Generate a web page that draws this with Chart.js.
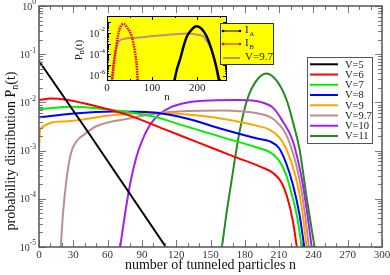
<!DOCTYPE html>
<html>
<head>
<meta charset="utf-8">
<script src="https://cdn.jsdelivr.net/npm/chart.js@4"></script>
<style>
  html, body { margin: 0; padding: 0; background: #fff; }
  #wrap { position: relative; width: 390px; height: 275px; }
  #main { position: absolute; left: 0; top: 0; }
  #inset { position: absolute; left: 70px; top: 0; }
</style>
</head>
<body>
<div id="wrap">
  <canvas id="main" width="390" height="275"></canvas>
  <canvas id="inset" width="210" height="102"></canvas>
</div>
<script>
// ---- main panel data ----
const xTickLabels = [0, 30, 60, 90, 120, 150, 180, 210, 240, 270, 300];
const yTickExps = [0, -1, -2, -3, -4, -5];

const nV5 = [0, 43, 111];
const pV5 = [0.072, 2.4e-3, 1e-5];

const nV6 = [0, 10, 25, 50, 80, 110, 140, 170, 195, 205, 212, 217, 222, 225.5];
const pV6 = [0.0112, 0.012, 0.0112, 8.3e-3, 5.25e-3, 2.75e-3, 1.45e-3, 7.6e-4, 4.5e-4, 3.4e-4, 2.2e-4, 1.1e-4, 3.5e-5, 1e-5];

const nV7 = [0, 30, 65, 100, 130, 160, 190, 202, 210, 216, 221, 226, 229.7];
const pV7 = [7.2e-3, 8.1e-3, 6.9e-3, 5.1e-3, 3.1e-3, 1.9e-3, 1.17e-3, 9.3e-4, 6.2e-4, 3.2e-4, 1.26e-4, 4e-5, 1e-5];

const nV8 = [0, 30, 65, 100, 130, 160, 190, 202, 210, 216, 222, 228, 232];
const pV8 = [4.9e-3, 5.9e-3, 6.5e-3, 6.2e-3, 4.6e-3, 2.8e-3, 1.8e-3, 1.55e-3, 1.12e-3, 5.6e-4, 2e-4, 4.5e-5, 1e-5];

const nV9 = [0, 1, 21, 65, 103, 130, 160, 190, 202, 210, 216, 224, 230, 234];
const pV9 = [1e-3, 2.8e-3, 4e-3, 5.5e-3, 6.2e-3, 5.6e-3, 4.6e-3, 3.3e-3, 2.7e-3, 1.9e-3, 1.12e-3, 3.2e-4, 6.3e-5, 1e-5];

const nV97 = [19, 21, 24, 28, 33, 40, 50, 80, 103, 130, 160, 190, 202, 210, 217, 226, 232, 236];
const pV97 = [1e-5, 5e-5, 2.45e-4, 8.9e-4, 1.58e-3, 2.2e-3, 3.2e-3, 4.7e-3, 5.9e-3, 6.6e-3, 6.8e-3, 6e-3, 5e-3, 3.5e-3, 1.95e-3, 4e-4, 6.3e-5, 1e-5];

const nV10 = [71, 76, 80, 85, 90, 97, 105, 115, 130, 150, 175, 195, 205, 212, 222, 230, 234, 238.5];
const pV10 = [1e-5, 6.3e-5, 2.2e-4, 7.1e-4, 1.58e-3, 3.4e-3, 5.6e-3, 7.9e-3, 0.01, 0.011, 0.0112, 0.01, 7.6e-3, 4.5e-3, 1.58e-3, 2.5e-4, 6.3e-5, 1e-5];

const nV11 = [160, 164, 168.5, 175, 182, 190, 199, 208, 216.6, 222, 228, 234, 241];
const pV11 = [1e-5, 5e-5, 2.45e-4, 2.2e-3, 0.0112, 0.028, 0.04, 0.028, 0.0112, 4e-3, 1.02e-3, 1.1e-4, 1e-5];

// ---- inset data ----
const insetXTicks = [0, 100, 200];
const insetYExps = [-2, -4, -6];

const nIA = [149, 155, 162, 170, 177, 188, 198, 210, 221, 229, 236, 243, 249];
const pIA = [3e-7, 4e-6, 3.5e-5, 6.3e-4, 4.7e-3, 0.0224, 0.0437, 0.0251, 4.7e-3, 6.3e-4, 7.1e-5, 5e-6, 3e-7];

const nIB = [11, 15, 21.5, 28, 36, 45, 55, 62, 66, 68];
const pIB = [3e-7, 1e-5, 1.1e-3, 0.025, 0.071, 0.0316, 4.6e-3, 1.6e-4, 7.9e-6, 3e-7];

const nI97 = [11, 14, 18, 21.5, 26, 32.6, 60, 103, 150, 177, 200, 214, 222, 230, 236, 242, 247];
const pI97 = [3e-7, 1e-5, 1.26e-4, 5.4e-4, 1.58e-3, 2.57e-3, 3.5e-3, 5.2e-3, 7.6e-3, 8.9e-3, 7.1e-3, 4.6e-3, 1.58e-3, 4e-4, 6.3e-5, 5e-6, 3e-7];

const SERIF = '"Liberation Serif", "DejaVu Serif", serif';

function series(label, color, ns, ps, extra) {
    return Object.assign({
        label,
        data: ns.map((n, i) => ({ x: n, y: ps[i] })),
        borderColor: color,
        backgroundColor: color,
        borderWidth: 2,
        pointRadius: 0,
        cubicInterpolationMode: 'monotone',
        fill: false,
    }, extra || {});
}

function seg(ctx, x1, y1, x2, y2) {
    ctx.beginPath();
    ctx.moveTo(x1, y1);
    ctx.lineTo(x2, y2);
    ctx.stroke();
}

// "10" with a raised exponent, right aligned at x
function powLabel(ctx, exp, x, y, base, sup) {
    const e = exp === 0 ? '0' : String(exp);
    ctx.font = sup + 'px ' + SERIF;
    const we = ctx.measureText(e).width;
    ctx.textAlign = 'left';
    ctx.textBaseline = 'middle';
    ctx.fillText(e, x - we, y - base * 0.35);
    ctx.font = base + 'px ' + SERIF;
    const wb = ctx.measureText('10').width;
    ctx.fillText('10', x - we - wb, y + 1);
}

function logTicks(minExp, maxExp) {
    const out = [];
    for (let d = minExp; d <= maxExp; d++) {
        for (let m = 1; m <= 9; m++) {
            const v = m * Math.pow(10, d);
            if (d === maxExp && m > 1) break;
            out.push({ v, major: m === 1 });
        }
    }
    return out;
}

const mainDeco = {
    id: 'mainDeco',
    afterDraw(chart) {
        const { ctx, chartArea: a, scales: { x, y } } = chart;
        ctx.save();
        // inward ticks on all sides
        ctx.strokeStyle = '#777';
        ctx.lineWidth = 1;
        for (let v = 0; v <= 300; v += 10) {
            const px = Math.round(x.getPixelForValue(v)) + 0.5;
            const len = v % 30 === 0 ? 7 : 4;
            seg(ctx, px, a.top, px, a.top + len);
            seg(ctx, px, a.bottom, px, a.bottom - len);
        }
        for (const t of logTicks(-5, 0)) {
            const py = Math.round(y.getPixelForValue(t.v)) + 0.5;
            const len = t.major ? 7 : 4;
            seg(ctx, a.left, py, a.left + len, py);
            seg(ctx, a.right, py, a.right - len, py);
        }
        ctx.strokeStyle = '#555';
        ctx.lineWidth = 1.5;
        ctx.strokeRect(a.left, a.top, a.right - a.left, a.bottom - a.top);

        // tick labels
        ctx.fillStyle = '#333';
        ctx.font = '11px ' + SERIF;
        ctx.textAlign = 'center';
        ctx.textBaseline = 'middle';
        for (const v of xTickLabels) ctx.fillText(String(v), x.getPixelForValue(v), a.bottom + 8);
        for (const e of yTickExps) powLabel(ctx, e, a.left - 3, y.getPixelForValue(Math.pow(10, e)), 10, 7.5);

        // axis titles
        ctx.fillStyle = '#111';
        ctx.font = '14px ' + SERIF;
        ctx.textAlign = 'center';
        ctx.textBaseline = 'middle';
        ctx.fillText('number of tunneled particles n', (a.left + a.right) / 2, 265);

        ctx.save();
        ctx.translate(11, 151);
        ctx.rotate(-Math.PI / 2);
        const t1 = 'probability distribution P';
        ctx.font = '14px ' + SERIF;
        const w1 = ctx.measureText(t1).width;
        ctx.font = '10px ' + SERIF;
        const w2 = ctx.measureText('n').width;
        ctx.font = '14px ' + SERIF;
        const w3 = ctx.measureText('(t)').width;
        const sx = -(w1 + w2 + w3) / 2;
        ctx.textAlign = 'left';
        ctx.fillText(t1, sx, 0);
        ctx.font = '10px ' + SERIF;
        ctx.fillText('n', sx + w1, 4);
        ctx.font = '14px ' + SERIF;
        ctx.fillText('(t)', sx + w1 + w2, 0);
        ctx.restore();

        // legend box
        const lx = 307, ly = 57, lw = 65, lh = 86;
        ctx.fillStyle = '#fff';
        ctx.fillRect(lx, ly, lw, lh);
        ctx.strokeStyle = '#555';
        ctx.lineWidth = 1;
        ctx.strokeRect(lx + 0.5, ly + 0.5, lw, lh);
        ctx.font = '10.5px ' + SERIF;
        ctx.textAlign = 'left';
        chart.data.datasets.forEach((ds, i) => {
            const ry = 64.3 + i * 10.24;
            ctx.strokeStyle = ds.borderColor;
            ctx.lineWidth = 2;
            seg(ctx, 310, ry, 338, ry);
            ctx.fillStyle = '#222';
            ctx.fillText(ds.label, 345, ry + 0.5);
        });
        ctx.restore();
    }
};

new Chart(document.getElementById('main'), {
    type: 'line',
    data: {
        datasets: [
            series('V=5', '#000000', nV5, pV5, { cubicInterpolationMode: 'default', tension: 0 }),
            series('V=6', '#ff0000', nV6, pV6),
            series('V=7', '#00f000', nV7, pV7),
            series('V=8', '#0000ff', nV8, pV8),
            series('V=9', '#ffa500', nV9, pV9),
            series('V=9.7', '#bc8f8f', nV97, pV97),
            series('V=10', '#a020f0', nV10, pV10),
            series('V=11', '#228b22', nV11, pV11),
        ],
    },
    options: {
        responsive: false,
        animation: false,
        layout: { padding: { left: 39, right: 8, top: 6, bottom: 28 } },
        plugins: { legend: { display: false }, tooltip: { enabled: false } },
        scales: {
            x: { type: 'linear', min: 0, max: 300, display: false },
            y: { type: 'logarithmic', min: 1e-5, max: 1, display: false },
        },
    },
    plugins: [mainDeco],
});

const insetDeco = {
    id: 'insetDeco',
    beforeDatasetsDraw(chart) {
        const { ctx, chartArea: a } = chart;
        ctx.save();
        ctx.fillStyle = '#ffff00';
        ctx.fillRect(a.left, a.top, a.right - a.left, a.bottom - a.top);
        ctx.restore();
    },
    afterDraw(chart) {
        const { ctx, chartArea: a, scales: { x, y } } = chart;
        ctx.save();
        ctx.strokeStyle = '#000';
        ctx.lineWidth = 1;
        for (let v = 0; v <= 250; v += 50) {
            const px = Math.round(x.getPixelForValue(v)) + 0.5;
            const len = v % 100 === 0 ? 4 : 2;
            seg(ctx, px, a.top, px, a.top + len);
            seg(ctx, px, a.bottom, px, a.bottom - len);
        }
        for (const t of logTicks(-6, -1)) {
            const py = Math.round(y.getPixelForValue(t.v)) + 0.5;
            const len = t.major ? 4 : 2;
            seg(ctx, a.left, py, a.left + len, py);
            seg(ctx, a.right, py, a.right - len, py);
        }
        ctx.strokeRect(a.left + 0.5, a.top + 0.5, a.right - a.left - 1, a.bottom - a.top - 1);

        ctx.fillStyle = '#222';
        ctx.font = '11px ' + SERIF;
        ctx.textAlign = 'center';
        ctx.textBaseline = 'middle';
        for (const v of insetXTicks) ctx.fillText(String(v), x.getPixelForValue(v), a.bottom + 7);
        ctx.fillText('n', (a.left + a.right) / 2, a.bottom + 16);
        for (const e of insetYExps) powLabel(ctx, e, a.left - 2, y.getPixelForValue(Math.pow(10, e)), 10, 7);

        ctx.save();
        ctx.translate(9, 50);
        ctx.rotate(-Math.PI / 2);
        ctx.font = '11px ' + SERIF;
        const wp = ctx.measureText('P').width;
        ctx.font = '8px ' + SERIF;
        const wn = ctx.measureText('n').width;
        ctx.font = '11px ' + SERIF;
        const wt = ctx.measureText('(t)').width;
        const sx = -(wp + wn + wt) / 2;
        ctx.textAlign = 'left';
        ctx.fillText('P', sx, 0);
        ctx.font = '8px ' + SERIF;
        ctx.fillText('n', sx + wp, 3);
        ctx.font = '11px ' + SERIF;
        ctx.fillText('(t)', sx + wp + wn, 0);
        ctx.restore();

        // inset legend (page x 220..273)
        const lx = 150, ly = 23, lw = 53, lh = 41;
        ctx.fillStyle = '#ffff00';
        ctx.fillRect(lx, ly, lw, lh);
        ctx.strokeStyle = '#333';
        ctx.lineWidth = 1;
        ctx.strokeRect(lx + 0.5, ly + 0.5, lw, lh);
        const rows = [
            { c: '#000', main: 'I', sub: 'A', y: 31, dots: true },
            { c: '#ff0000', main: 'I', sub: 'B', y: 44, dots: true },
            { c: '#bc8f8f', main: 'V=9.7', sub: '', y: 58, dots: false },
        ];
        for (const r of rows) {
            ctx.strokeStyle = r.c;
            ctx.fillStyle = r.c;
            ctx.lineWidth = r.dots ? 1 : 2;
            seg(ctx, lx + 3, r.y, lx + 20, r.y);
            if (r.dots) {
                for (const px of [lx + 3, lx + 20]) {
                    ctx.beginPath();
                    ctx.arc(px, r.y, 1.3, 0, Math.PI * 2);
                    ctx.fill();
                }
            }
            ctx.fillStyle = '#222';
            ctx.textAlign = 'left';
            ctx.font = '11px ' + SERIF;
            ctx.fillText(r.main, lx + 25, r.y - 1);
            if (r.sub) {
                const w = ctx.measureText(r.main).width;
                ctx.font = '7px ' + SERIF;
                ctx.fillText(r.sub, lx + 25 + w + 0.5, r.y + 3);
            }
        }
        ctx.restore();
    }
};

new Chart(document.getElementById('inset'), {
    type: 'line',
    data: {
        datasets: [
            series('I_A', '#000000', nIA, pIA, { borderWidth: 2.5 }),
            series('I_B', '#ff0000', nIB, pIB, { borderWidth: 2.5, borderDash: [1.5, 1] }),
            series('V=9.7', '#bc8f8f', nI97, pI97, { borderWidth: 2 }),
        ],
    },
    options: {
        responsive: false,
        animation: false,
        layout: { padding: { left: 37, right: 53, top: 16, bottom: 21 } },
        plugins: { legend: { display: false }, tooltip: { enabled: false } },
        scales: {
            x: { type: 'linear', min: 0, max: 266, display: false },
            y: { type: 'logarithmic', min: 3.2e-7, max: 0.4, display: false },
        },
    },
    plugins: [insetDeco],
});
</script>
</body>
</html>
